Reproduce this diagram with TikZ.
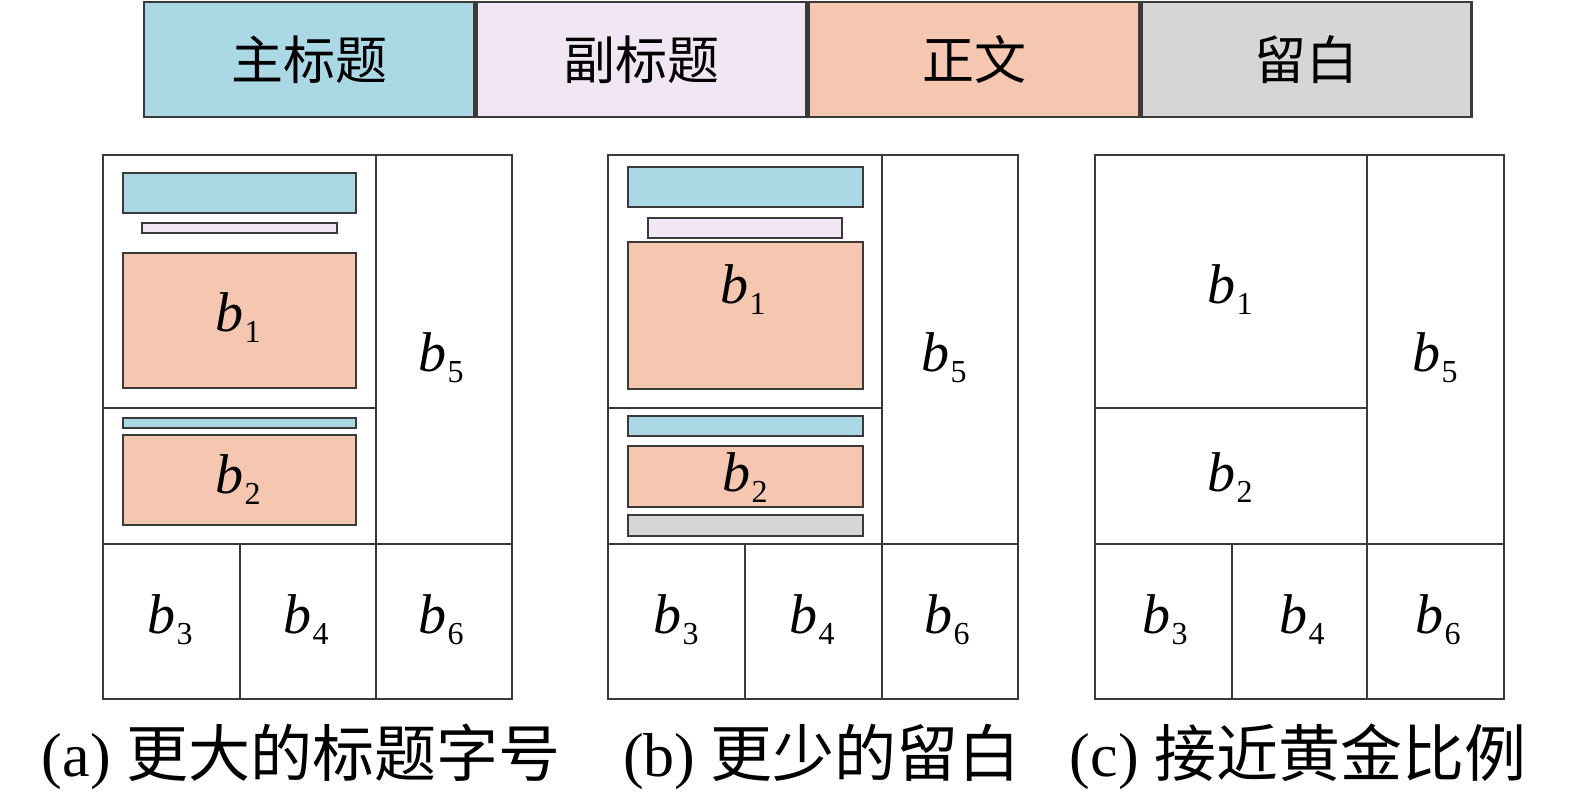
\documentclass[tikz,border=0pt]{standalone}
\usepackage{fontspec}
\setmainfont{Liberation Serif}
\newfontfamily\cjk{Noto Sans CJK SC}
\definecolor{cblue}{HTML}{AAD8E4}
\definecolor{clav}{HTML}{F0E6F4}
\definecolor{csal}{HTML}{F5C6B0}
\definecolor{cgray}{HTML}{D6D6D6}
\definecolor{cline}{HTML}{3A3A3A}
\newcommand\blab[1]{{\fontsize{56}{56}\selectfont\itshape b}\kern1pt\raisebox{-11pt}{\fontsize{32}{32}\selectfont #1}}
\tikzset{
  frame/.style={draw=cline, line width=2.2pt},
  part/.style={draw=cline, line width=2pt},
  keybox/.style={draw=cline, line width=2.4pt, minimum height=115pt, inner sep=0pt, anchor=north west, font=\cjk\fontsize{52}{52}\selectfont},
  blabel/.style={inner sep=0pt},
  caption/.style={inner sep=0pt, font=\fontsize{62}{62}\selectfont}
}
\begin{document}
\begin{tikzpicture}[x=1pt,y=-1pt]
\useasboundingbox (0,0) rectangle (1575,795);
% legend bar
\node[keybox, fill=cblue, minimum width=330pt] (k1) at (143,1) {主标题};
\node[keybox, fill=clav, minimum width=330pt] (k2) at (k1.north east) {副标题};
\node[keybox, fill=csal, minimum width=330pt] (k3) at (k2.north east) {正文};
\node[keybox, fill=cgray, minimum width=330pt] (k4) at (k3.north east) {留白};

% ---------- panel (a)
\fill[cblue] (123,173) rectangle (356,213);
\draw[part] (123,173) rectangle (356,213);
\fill[clav] (142,223) rectangle (337,233);
\draw[part] (142,223) rectangle (337,233);
\fill[csal] (123,253) rectangle (356,388);
\draw[part] (123,253) rectangle (356,388);
\fill[cblue] (123,418) rectangle (356,428);
\draw[part] (123,418) rectangle (356,428);
\fill[csal] (123,435) rectangle (356,525);
\draw[part] (123,435) rectangle (356,525);
\draw[frame] (103,155) rectangle (512,699);
\draw[frame] (376,155) -- (376,699);
\draw[frame] (103,408) -- (376,408);
\draw[frame] (103,544) -- (512,544);
\draw[frame] (240,544) -- (240,699);
\node[blabel] (a1) at (238,318) {\blab{1}};
\node[blabel] (a2) at (238,480) {\blab{2}};
\node[blabel] (a5) at (441,358) {\blab{5}};
\node[blabel] (a3) at (170,620) {\blab{3}};
\node[blabel] (a4) at (306,620) {\blab{4}};
\node[blabel] (a6) at (441,620) {\blab{6}};

% ---------- panel (b)
\fill[cblue] (628,167) rectangle (863,207);
\draw[part] (628,167) rectangle (863,207);
\fill[clav] (648,218) rectangle (842,238);
\draw[part] (648,218) rectangle (842,238);
\fill[csal] (628,242) rectangle (863,389);
\draw[part] (628,242) rectangle (863,389);
\fill[cblue] (628,416) rectangle (863,436);
\draw[part] (628,416) rectangle (863,436);
\fill[csal] (628,446) rectangle (863,507);
\draw[part] (628,446) rectangle (863,507);
\fill[cgray] (628,515) rectangle (863,536);
\draw[part] (628,515) rectangle (863,536);
\draw[frame] (608,155) rectangle (1018,699);
\draw[frame] (882,155) -- (882,699);
\draw[frame] (608,408) -- (882,408);
\draw[frame] (608,544) -- (1018,544);
\draw[frame] (745,544) -- (745,699);
\node[blabel] (b1) at (743,290) {\blab{1}};
\node[blabel] (b2) at (745,478) {\blab{2}};
\node[blabel] (b5) at (944,358) {\blab{5}};
\node[blabel] (b3) at (676,620) {\blab{3}};
\node[blabel] (b4) at (812,620) {\blab{4}};
\node[blabel] (b6) at (947,620) {\blab{6}};

% ---------- panel (c)
\draw[frame] (1095,155) rectangle (1504,699);
\draw[frame] (1367,155) -- (1367,699);
\draw[frame] (1095,408) -- (1367,408);
\draw[frame] (1095,544) -- (1504,544);
\draw[frame] (1232,544) -- (1232,699);
\node[blabel] (c1) at (1230,290) {\blab{1}};
\node[blabel] (c2) at (1230,478) {\blab{2}};
\node[blabel] (c5) at (1435,358) {\blab{5}};
\node[blabel] (c3) at (1165,620) {\blab{3}};
\node[blabel] (c4) at (1302,620) {\blab{4}};
\node[blabel] (c6) at (1438,620) {\blab{6}};

% captions
\node[caption] (capa) at (301,757) {(a) {\cjk 更大的标题字号}};
\node[caption] (capb) at (822,757) {(b) {\cjk 更少的留白}};
\node[caption] (capc) at (1298,757) {(c) {\cjk 接近黄金比例}};
\end{tikzpicture}
\end{document}
